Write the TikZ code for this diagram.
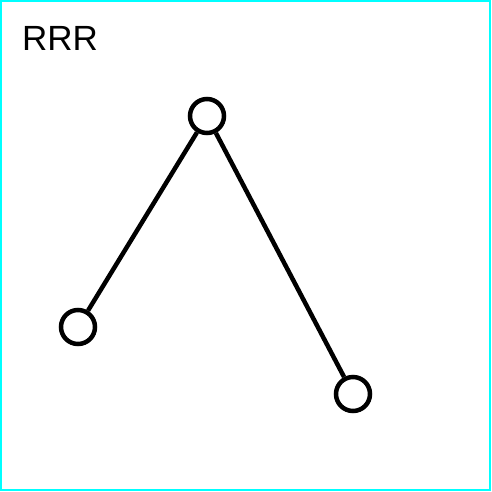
\documentclass[tikz,border=0pt]{standalone}
\usepackage{fontspec}
\setmainfont{Liberation Sans}
\definecolor{framecyan}{RGB}{0,255,255}
\begin{document}
\begin{tikzpicture}[x=1pt,y=-1pt,
  vert/.style={circle,draw=black,line width=4.5pt,fill=white,minimum size=34pt,inner sep=0pt},
  edge/.style={draw=black,line width=4.5pt}]
\useasboundingbox (0,0) rectangle (492,491);
\draw[framecyan,line width=1.5pt] (1,1) rectangle (490,490);
\node[anchor=base west,inner sep=0pt,font=\fontsize{35}{35}\selectfont] (lbl) at (22,50) {RRR};
\node[vert] (t) at (207,116) {};
\node[vert] (l) at (78,327) {};
\node[vert] (r) at (353,394) {};
\draw[edge] (t) -- (l);
\draw[edge] (t) -- (r);
\end{tikzpicture}
\end{document}
